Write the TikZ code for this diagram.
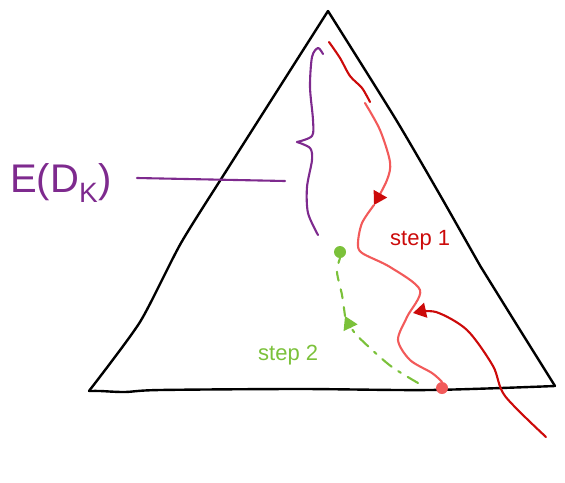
\documentclass[tikz,border=0pt]{standalone}
\usepackage{fontspec}
\setsansfont{Liberation Sans}
\usetikzlibrary{arrows.meta,positioning}

\definecolor{ekpurple}{HTML}{7E2A8E}
\definecolor{ekred}{HTML}{CC0A0A}
\definecolor{ekpink}{HTML}{F25A5A}
\definecolor{ekgreen}{HTML}{7BC13A}

\begin{document}
\begin{tikzpicture}[
x=1pt, y=-1pt,
ink/.style={line width=2.4pt, line cap=round, line join=round},
pen/.style={line width=2.1pt, line cap=round, line join=round},
label/.style={font=\sffamily\fontsize{22}{22}\selectfont, inner sep=0pt},
tip/.style={-{Triangle[length=13pt, width=15pt, color=#1]}}
]
\useasboundingbox (0,0) rectangle (565,482);

% triangle corners
\coordinate (top) at (328,11);
\coordinate (bl) at (89,391);
\coordinate (br) at (555,386);
\draw[ink] plot[smooth, tension=0.4] coordinates {(bl) (140,322) (181,243) (230,165) (top)};
\draw[ink] plot[smooth, tension=0.4] coordinates {(top) (395,118) (440,195) (478,262) (484,272) (520,330) (br)};
\draw[ink] plot[smooth, tension=0.5] coordinates {(br) (430,390) (300,389) (160,390) (125,392) (100,391) (bl)};

% step 1 path
\coordinate (start) at (329,42);
\coordinate (mid) at (374,205);
\node[circle, fill=ekpink, inner sep=0pt, minimum size=12pt] (hit) at (442,388) {};
\draw[pen, draw=ekred] plot[smooth] coordinates {(start) (340,58) (350,76) (362,88) (370,102)};
\draw[pen, draw=ekpink, tip=ekred] plot[smooth] coordinates {(365,103) (380,130) (390,162) (387,180) (mid)};
\draw[pen, draw=ekpink] plot[smooth] coordinates {(mid) (362,223) (358,243) (362,253) (390,267) (420,290) (407,317) (398,340) (410,360) (432,373) (hit.north)};
\node[label, text=ekred, anchor=west] (s1) at (390,240) {step 1};

% incoming arrow
\coordinate (in) at (546,437);
\coordinate (inend) at (413,313);
\draw[pen, draw=ekred, tip=ekred] plot[smooth] coordinates {(in) (505,396) (493,366) (467,330) (436,312) (inend)};

% step 2 path
\node[circle, fill=ekgreen, inner sep=0pt, minimum size=12pt] (goal) at (340,252) {};
\coordinate (gmid) at (345,316);
\draw[pen, draw=ekgreen, dash pattern=on 12pt off 8pt on 3pt off 8pt, tip=ekgreen] plot[smooth] coordinates {(418,383) (392,367) (370,348) (354,332) (gmid)};
\draw[pen, draw=ekgreen, dash pattern=on 9pt off 9pt] plot[smooth] coordinates {(gmid) (342,295) (337,272) (goal.south)};
\node[label, text=ekgreen, anchor=west] (s2) at (258,355) {step 2};

% expectation brace
\coordinate (btip) at (297,142);
\draw[pen, draw=ekpurple] plot[smooth] coordinates {(323,54) (318,48) (312,57) (310,87) (313,120) (312,136) (btip)};
\draw[pen, draw=ekpurple] plot[smooth] coordinates {(btip) (310,148) (312,160) (307,187) (308,213) (318,235)};
\node[font=\sffamily\fontsize{40}{40}\selectfont, text=ekpurple, inner sep=0pt, anchor=west] (ed) at (10,183) {E(D\textsubscript{K})};
\coordinate (lstart) at (137,178);
\coordinate (lend) at (285,181);
\draw[pen, draw=ekpurple] (lstart) -- (lend);
\end{tikzpicture}
\end{document}
